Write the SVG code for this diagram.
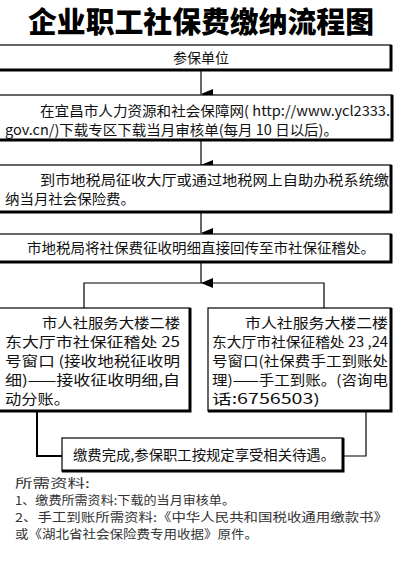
<svg xmlns="http://www.w3.org/2000/svg" width="402" height="570" viewBox="0 0 402 570">
<defs>
<marker id="arr" viewBox="0 0 10 12" refX="5" refY="12" markerWidth="10" markerHeight="12" markerUnits="userSpaceOnUse" orient="auto-start-reverse">
<path d="M0,0 L10,0 L5,12 Z" fill="#000"/>
</marker>
<style>
.box{fill:#fff;stroke:#000;stroke-width:1.2}
.sh{fill:none;stroke:#000;stroke-width:3}
.t{font-family:"Noto Sans CJK SC","Liberation Sans",sans-serif;font-size:14px;fill:#111}
.n{font-family:"Noto Sans CJK SC","Liberation Sans",sans-serif;font-size:12px;fill:#333}
.c{fill:none;stroke:#000;stroke-width:1.2}
</style>
</defs>
<rect width="402" height="570" fill="#fff"/>
<text x="201" y="33" text-anchor="middle" font-family="'Noto Sans CJK SC',sans-serif" font-weight="900" font-size="29" fill="#000" textLength="346" lengthAdjust="spacingAndGlyphs">企业职工社保费缴纳流程图</text>

<g id="connectors">
<line class="c" x1="201" y1="71" x2="201" y2="94" marker-end="url(#arr)"/>
<line class="c" x1="201" y1="141" x2="201" y2="165" marker-end="url(#arr)"/>
<line class="c" x1="201" y1="213" x2="201" y2="233" marker-end="url(#arr)"/>
<line class="c" x1="201" y1="263" x2="201" y2="283" marker-end="url(#arr)"/>
<polyline class="c" points="84,308 84,283 324,283 324,308"/>
<polyline class="c" points="37,412 37,456 62,456" style="stroke-width:2"/>
<polyline class="c" points="366,412 366,456 343,456"/>
</g>

<g id="n1">
<rect class="box" x="-2" y="45" width="393" height="25"/>
<path class="sh" d="M-2,70 H391 V45"/>
<text class="t" x="201" y="63" text-anchor="middle">参保单位</text>
</g>

<g id="n2">
<rect class="box" x="-2" y="95" width="394" height="45"/>
<path class="sh" d="M-2,140 H392 V95"/>
<text class="t" x="40" y="116" textLength="350" lengthAdjust="spacingAndGlyphs">在宜昌市人力资源和社会保障网( http://www.ycl2333.</text>
<text class="t" x="5" y="135" textLength="333" lengthAdjust="spacingAndGlyphs">gov.cn/)下载专区下载当月审核单(每月 10 日以后)。</text>
</g>

<g id="n3">
<rect class="box" x="-2" y="165" width="393" height="47"/>
<path class="sh" d="M-2,212 H391 V165"/>
<text class="t" x="40" y="185" textLength="349" lengthAdjust="spacingAndGlyphs">到市地税局征收大厅或通过地税网上自助办税系统缴</text>
<text class="t" x="5" y="204" textLength="130" lengthAdjust="spacingAndGlyphs">纳当月社会保险费。</text>
</g>

<g id="n4">
<rect class="box" x="-2" y="234" width="393" height="28"/>
<path class="sh" d="M-2,262 H391 V234"/>
<text class="t" x="27" y="253" textLength="348" lengthAdjust="spacingAndGlyphs">市地税局将社保费征收明细直接回传至市社保征稽处。</text>
</g>

<g id="n5a">
<rect class="box" x="-2" y="308" width="192" height="103"/>
<path class="sh" d="M-2,411 H190 V308"/>
<text class="t" x="42" y="328" textLength="138" lengthAdjust="spacingAndGlyphs">市人社服务大楼二楼</text>
<text class="t" x="5" y="347" textLength="175" lengthAdjust="spacingAndGlyphs">东大厅市社保征稽处 25</text>
<text class="t" x="5" y="366" textLength="175" lengthAdjust="spacingAndGlyphs">号窗口 (接收地税征收明</text>
<text class="t" x="5" y="385" textLength="175" lengthAdjust="spacingAndGlyphs">细)——接收征收明细,自</text>
<text class="t" x="5" y="404" textLength="65" lengthAdjust="spacingAndGlyphs">动分账。</text>
</g>

<g id="n5b">
<rect class="box" x="208" y="308" width="183" height="103"/>
<path class="sh" d="M208,411 H391 V308"/>
<text class="t" x="245" y="328" textLength="143" lengthAdjust="spacingAndGlyphs">市人社服务大楼二楼</text>
<text class="t" x="212" y="347" textLength="176" lengthAdjust="spacingAndGlyphs">东大厅市社保征稽处 23 ,24</text>
<text class="t" x="212" y="366" textLength="176" lengthAdjust="spacingAndGlyphs">号窗口(社保费手工到账处</text>
<text class="t" x="212" y="385" textLength="176" lengthAdjust="spacingAndGlyphs">理)——手工到账。(咨询电</text>
<text class="t" x="212" y="404" textLength="108" lengthAdjust="spacingAndGlyphs">话:6756503)</text>
</g>

<g id="n6">
<rect class="box" x="62" y="438" width="281" height="33"/>
<path class="sh" d="M62,471 H343 V438"/>
<text class="t" x="73" y="460" textLength="262" lengthAdjust="spacingAndGlyphs">缴费完成,参保职工按规定享受相关待遇。</text>
</g>

<g id="notes">
<text class="n" x="15" y="488" textLength="75" lengthAdjust="spacingAndGlyphs">所需资料:</text>
<text class="n" x="15" y="505" textLength="220" lengthAdjust="spacingAndGlyphs">1、缴费所需资料:下载的当月审核单。</text>
<text class="n" x="15" y="522" textLength="373" lengthAdjust="spacingAndGlyphs">2、手工到账所需资料:《中华人民共和国税收通用缴款书》</text>
<text class="n" x="15" y="539" textLength="243" lengthAdjust="spacingAndGlyphs">或《湖北省社会保险费专用收据》原件。</text>
</g>
</svg>
